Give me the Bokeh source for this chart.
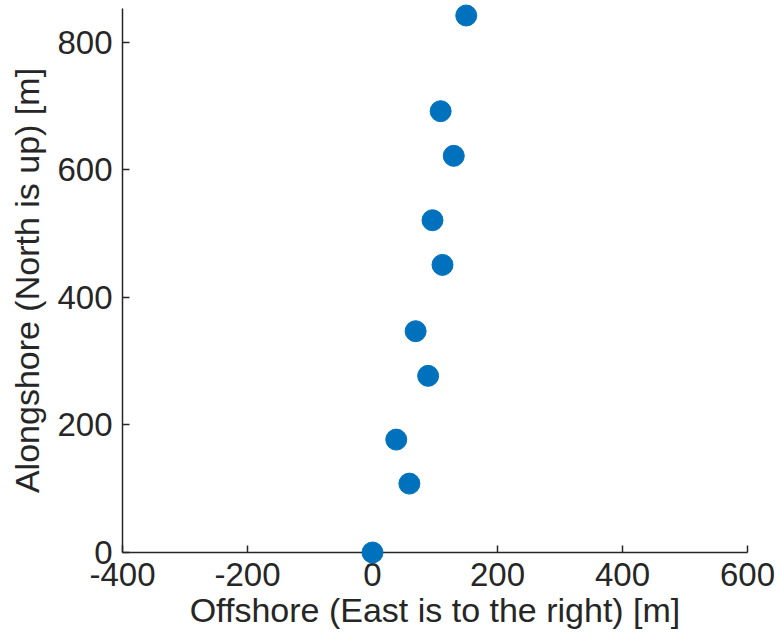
from bokeh.plotting import figure
from bokeh.embed import file_html
from bokeh.resources import INLINE
from bokeh.models import Range1d, FixedTicker

offshore = [0, 59, 38, 89, 69, 112, 96, 130, 109, 150]
alongshore = [0, 108, 177, 277, 347, 451, 521, 622, 692, 842]
x_ticks = [-400, -200, 0, 200, 400, 600]
y_ticks = [0, 200, 400, 600, 800]
x_label = "Offshore (East is to the right) [m]"
y_label = "Alongshore (North is up) [m]"

p = figure(width=778, height=635, output_backend="svg", toolbar_location=None,
           x_range=Range1d(-400, 600), y_range=Range1d(0, 853),
           min_border_top=8, min_border_right=31, min_border_left=122, min_border_bottom=83)
p.grid.visible = False
p.outline_line_color = None
p.background_fill_color = "white"
p.border_fill_color = "white"

p.scatter(offshore, alongshore, size=21, color="#0072BD", level="overlay")

ink = "#262626"
for ax in (p.xaxis[0], p.yaxis[0]):
    ax.axis_line_color = ink
    ax.axis_line_width = 1.5
    ax.major_tick_line_color = ink
    ax.major_tick_line_width = 1.5
    ax.major_tick_in = 7
    ax.major_tick_out = 0
    ax.minor_tick_line_color = None
    ax.major_label_text_font = "Liberation Sans"
    ax.major_label_text_font_size = "33px"
    ax.major_label_text_color = ink
    ax.axis_label_text_font = "Liberation Sans"
    ax.axis_label_text_font_size = "34px"
    ax.axis_label_text_font_style = "normal"
    ax.axis_label_text_color = ink

p.xaxis[0].ticker = FixedTicker(ticks=x_ticks)
p.yaxis[0].ticker = FixedTicker(ticks=y_ticks)
p.xaxis[0].major_label_overrides = {t: str(t) for t in x_ticks}
p.yaxis[0].major_label_overrides = {t: str(t) for t in y_ticks}
p.xaxis[0].axis_label = x_label
p.yaxis[0].axis_label = y_label
p.xaxis[0].major_label_standoff = 10
p.yaxis[0].major_label_standoff = 10
p.xaxis[0].axis_label_standoff = 2
p.yaxis[0].axis_label_standoff = 8

open("out.html", "w").write(file_html(p, INLINE))
